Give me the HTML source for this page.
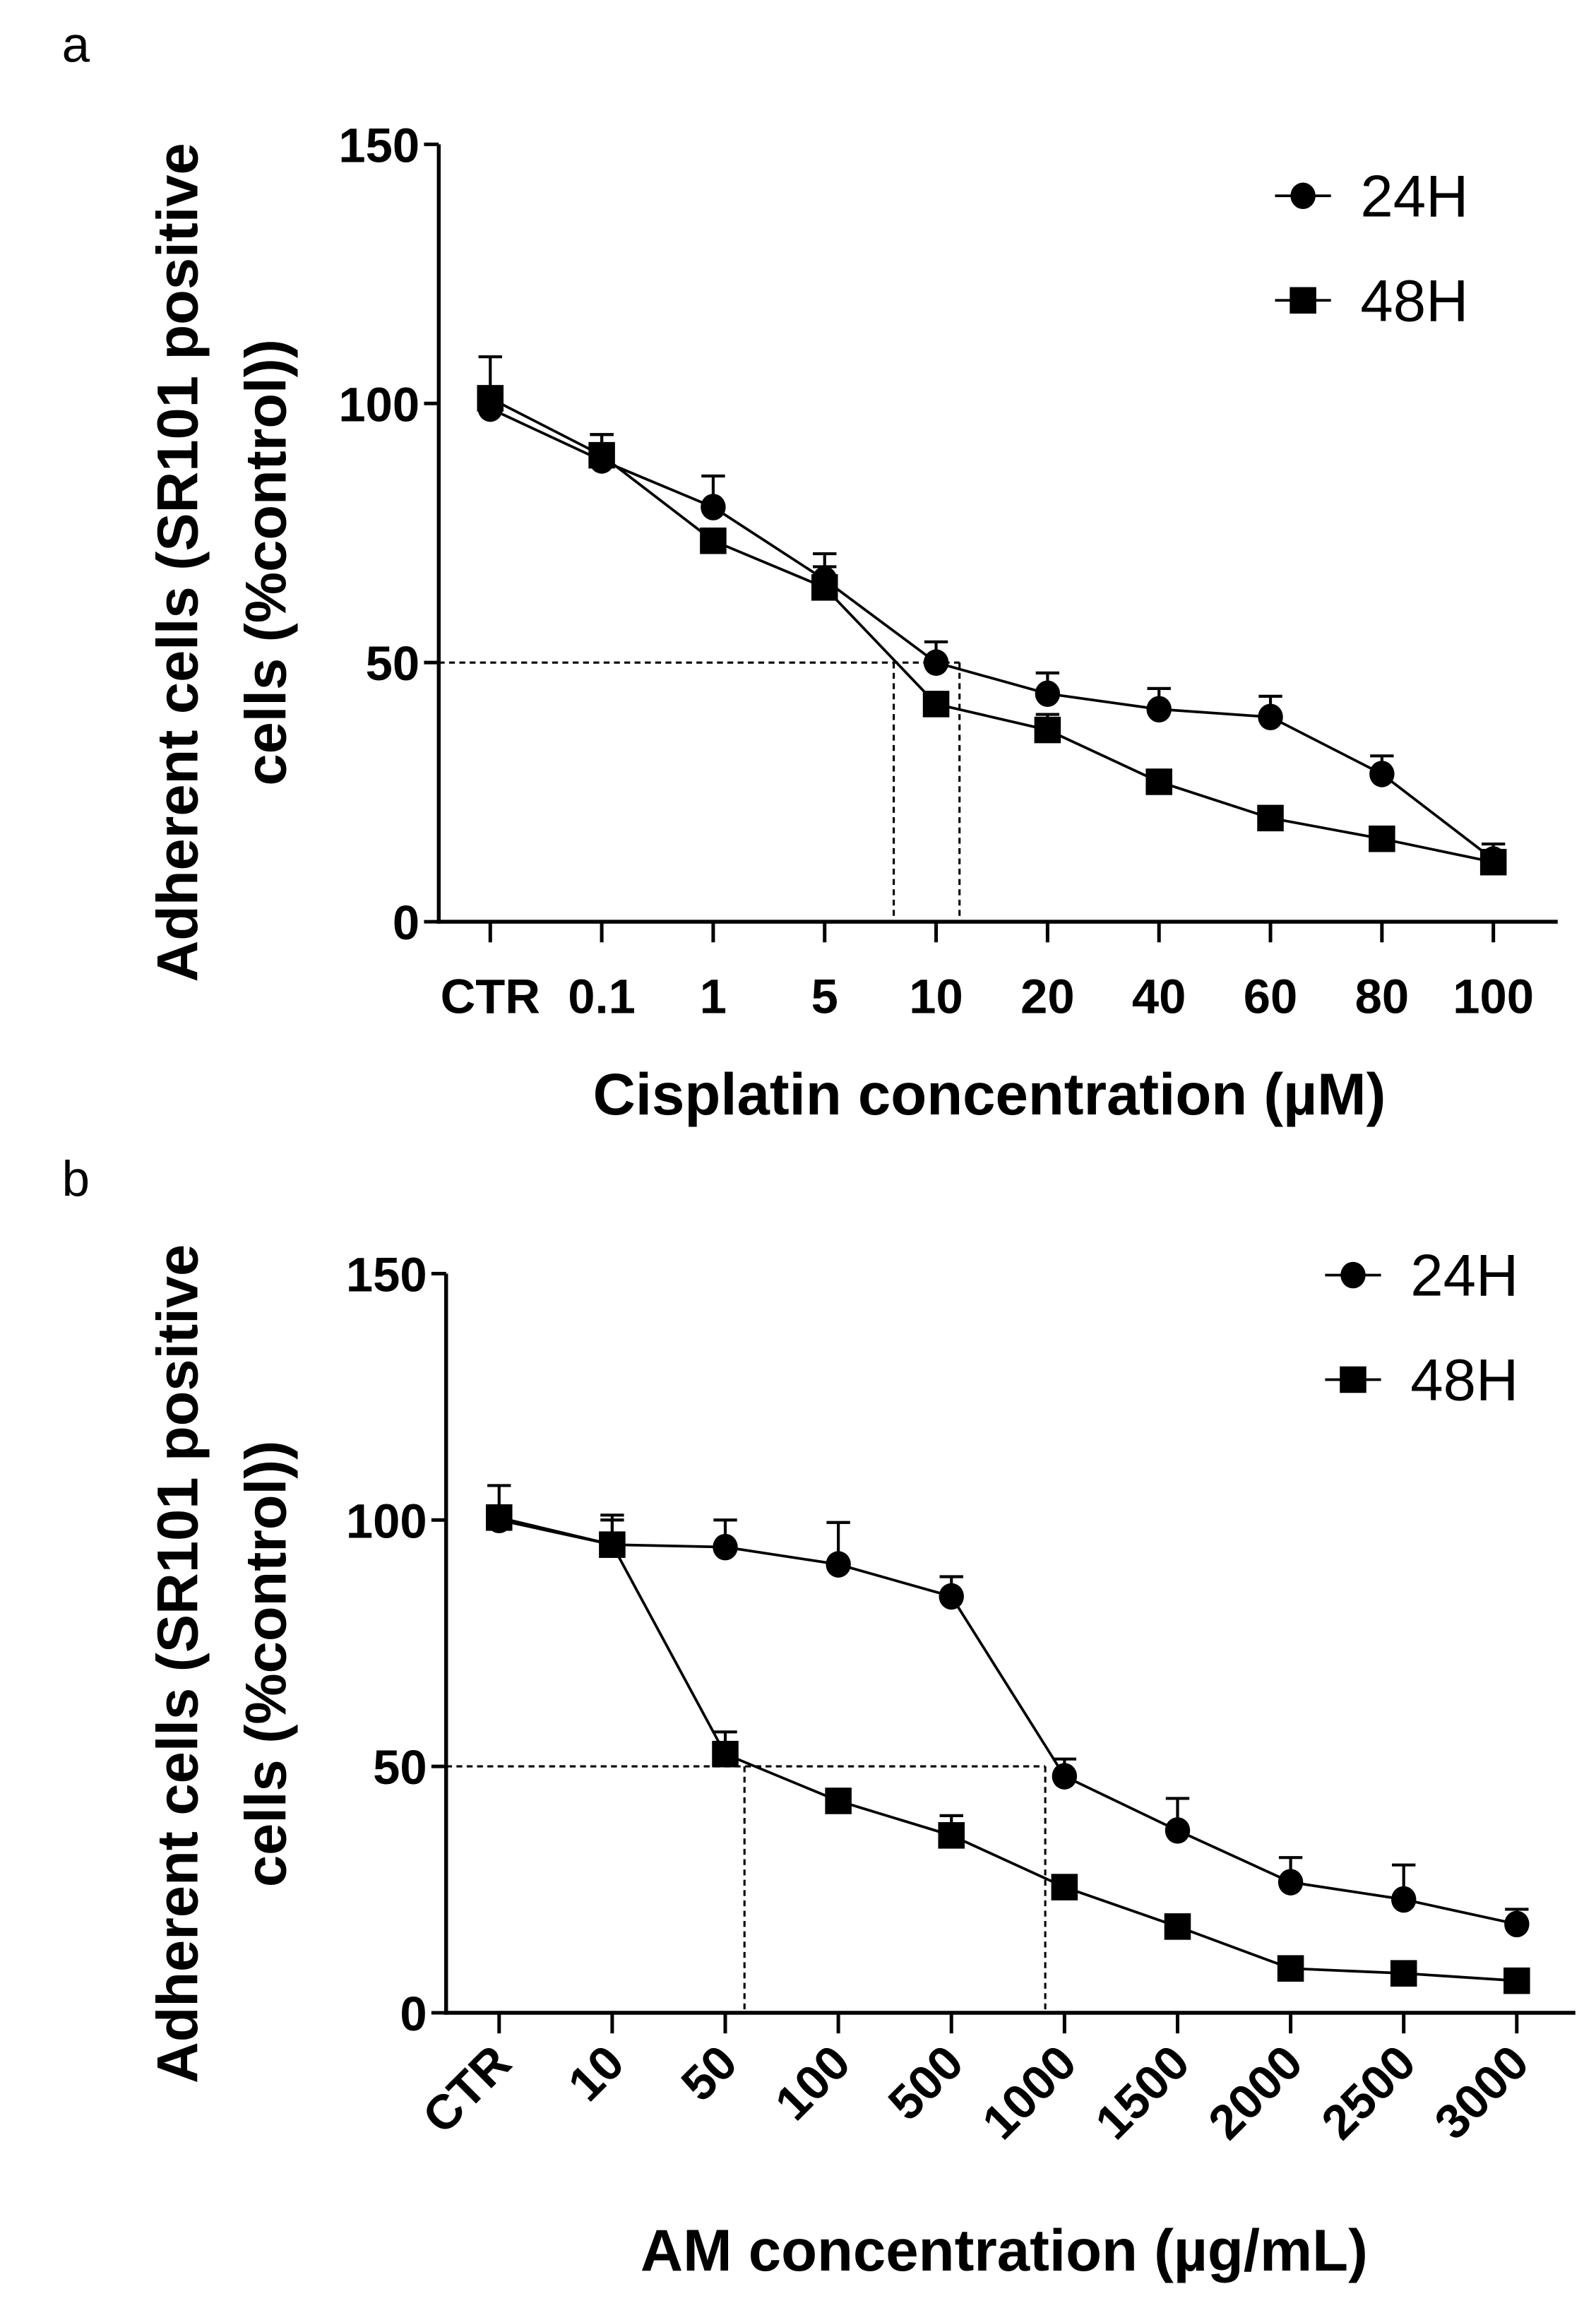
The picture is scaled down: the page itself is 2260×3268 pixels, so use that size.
<!DOCTYPE html>
<html><head><meta charset="utf-8">
<style>
html,body{margin:0;padding:0;background:#fff;}
svg{display:block;}
text{font-family:"Liberation Sans Narrow","Liberation Sans",sans-serif;fill:#000;}
.tk{font-weight:bold;font-size:33px;}
.yt{font-family:"Liberation Sans",sans-serif;font-weight:bold;font-size:39px;}
.xt{font-weight:bold;font-size:40px;}
.lg{font-size:40px;}
.pl{font-family:"Liberation Sans",sans-serif;font-size:34px;}
</style></head>
<body>
<svg id="fig" width="2260" height="3268" viewBox="0 0 1084 1567.5" xmlns="http://www.w3.org/2000/svg">
<text class="pl" x="42" y="42">a</text>
<text class="pl" x="42" y="812">b</text>
<g id="chartA"></g>
<g id="chartB"></g>
</svg>
<script>
const catsA = ["CTR","0.1","1","5","10","20","40","60","80","100"];
const a24 = [99,89,80,66,50,44,41,39.5,28.5,12];
const a24err = [0,5,6,5,4,4,4,4,3.5,3];
const a48 = [101,90,73.5,64.5,42,37,27,20,16,11.5];
const a48err = [8,4,0,4,0,3,0,0,0,0];
const aIC = [3.62, 4.21];

const catsB = ["CTR","10","50","100","500","1000","1500","2000","2500","3000"];
const b24 = [100,95,94.5,91,84.5,48,37,26.5,23,18];
const b24err = [7,6,5.5,8.5,4,3.5,6.5,5,7,3];
const b48 = [100.5,95,52.5,43,36,25.5,17.5,9,8,6.5];
const b48err = [0,5,4.5,0,4,0,0,0,0,0];
const bIC = [2.17, 4.83];

const yTicks = [0,50,100,150];
const NS="http://www.w3.org/2000/svg";
function mk(p,tag,at){const e=document.createElementNS(NS,tag);for(const k in at)e.setAttribute(k,at[k]);p.appendChild(e);return e;}

function draw(g, cfg){
  const X=i=>cfg.x0+i*cfg.step;
  const Y=v=>cfg.y0-v*(cfg.y0-cfg.y150)/150;
  let ax=mk(g,'line',{x1:cfg.ax,y1:cfg.y150,x2:cfg.ax,y2:cfg.y0+1.3,stroke:'#000','stroke-width':2.6});
  
  let xa=mk(g,'line',{x1:cfg.ax-1.3,y1:cfg.y0,x2:cfg.xend,y2:cfg.y0,stroke:'#000','stroke-width':2.6});
  
  yTicks.forEach(v=>{
    mk(g,'line',{x1:cfg.ax-10,y1:Y(v),x2:cfg.ax,y2:Y(v),stroke:'#000','stroke-width':2.4});
    const t=mk(g,'text',{x:cfg.ax-13,y:Y(v)+12,'text-anchor':'end',class:'tk'});t.textContent=v;
    
  });
  cfg.cats.forEach((c,i)=>{
    mk(g,'line',{x1:X(i),y1:cfg.y0,x2:X(i),y2:cfg.y0+14,stroke:'#000','stroke-width':2.4});
    let t;
    if(cfg.rot){
      t=mk(g,'text',{x:X(i)+10,y:cfg.y0+36,'text-anchor':'end',class:'tk',transform:`rotate(-45 ${X(i)+10} ${cfg.y0+36})`});
    } else {
      t=mk(g,'text',{x:X(i),y:cfg.y0+62,'text-anchor':'middle',class:'tk'});
    }
    t.textContent=c;
    
  });
  const dash={stroke:'#000','stroke-width':1.5,'stroke-dasharray':'4 3',fill:'none'};
  const xr=Math.max(X(cfg.ic[0]),X(cfg.ic[1]));
  let h=mk(g,'line',Object.assign({x1:cfg.ax,y1:Y(50),x2:xr,y2:Y(50)},dash));
  
  cfg.ic.forEach(p=>{let v=mk(g,'line',Object.assign({x1:X(p),y1:Y(50),x2:X(p),y2:cfg.y0},dash));
    });
  const series=[{v:cfg.s24,e:cfg.e24,m:'c',n:'24h'},{v:cfg.s48,e:cfg.e48,m:'s',n:'48h'}];
  series.forEach(s=>{
    s.v.forEach((v,i)=>{ if(s.e[i]>0){
      mk(g,'line',{x1:X(i),y1:Y(v),x2:X(i),y2:Y(v+s.e[i]),stroke:'#000','stroke-width':2});
      mk(g,'line',{x1:X(i)-8,y1:Y(v+s.e[i]),x2:X(i)+8,y2:Y(v+s.e[i]),stroke:'#000','stroke-width':2});
    }});
  });
  series.forEach(s=>{
    const pl=mk(g,'polyline',{points:s.v.map((v,i)=>X(i)+','+Y(v)).join(' '),fill:'none',stroke:'#000','stroke-width':1.8});
    
    s.v.forEach((v,i)=>{
      let m;
      if(s.m==='c') m=mk(g,'ellipse',{cx:X(i),cy:Y(v),rx:8.5,ry:9,fill:'#000'});
      else m=mk(g,'rect',{x:X(i)-9,y:Y(v)-9,width:18,height:18,fill:'#000'});
      
    });
  });
  [[cfg.leg[1],'c','24H'],[cfg.leg[1]+71,'s','48H']].forEach(([ly,m,l])=>{
    const lx=cfg.leg[0];
    mk(g,'line',{x1:lx-19,y1:ly,x2:lx+19,y2:ly,stroke:'#000','stroke-width':1.8});
    if(m==='c') mk(g,'ellipse',{cx:lx,cy:ly,rx:8.5,ry:9,fill:'#000'});
    else mk(g,'rect',{x:lx-9,y:ly-9,width:18,height:18,fill:'#000'});
    const t=mk(g,'text',{x:lx+39,y:ly+14,class:'lg'});t.textContent=l;
    
  });
  const xt=mk(g,'text',{x:cfg.xtx,y:cfg.xty,'text-anchor':'middle',class:'xt'});xt.textContent=cfg.xtitle;
  
  const yc=cfg.ytc;
  const y1=mk(g,'text',{x:0,y:0,'text-anchor':'middle',class:'yt',transform:`translate(134 ${yc}) rotate(-90)`});
  y1.textContent='Adherent cells (SR101 positive';
  
  const y2=mk(g,'text',{x:0,y:0,'text-anchor':'middle',class:'yt',transform:`translate(194 ${yc}) rotate(-90)`});
  y2.textContent='cells (%control))';
  
}
draw(document.getElementById('chartA'),{cats:catsA,s24:a24,e24:a24err,s48:a48,e48:a48err,ic:aIC,
  ax:298,x0:333,step:75.7,y0:626,y150:98,xend:1058,rot:false,leg:[885,133],
  xtitle:'Cisplatin concentration (µM)',xtx:672,xty:757,ytc:382});
draw(document.getElementById('chartB'),{cats:catsB,s24:b24,e24:b24err,s48:b48,e48:b48err,ic:bIC,
  ax:303,x0:339,step:76.8,y0:1367,y150:865,xend:1070,rot:true,leg:[919,866],
  xtitle:'AM concentration (µg/mL)',xtx:682,xty:1542,ytc:1130});
</script>
</body></html>
